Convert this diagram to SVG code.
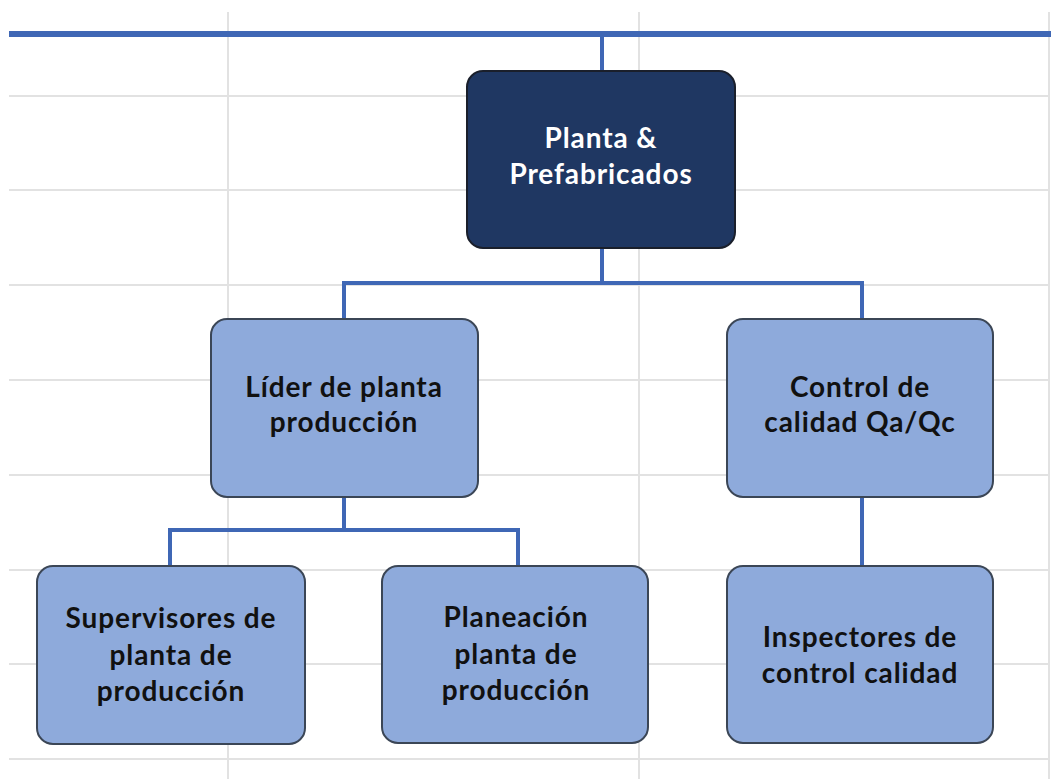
<svg xmlns="http://www.w3.org/2000/svg" width="1051" height="779" viewBox="0 0 1051 779">
<style>
.grid line{stroke:#e2e2e2;stroke-width:2}
.conn{stroke:#3f67b5;stroke-width:4;fill:none}
.box{fill:#8eaadb;stroke:#3b4656;stroke-width:2}
.dark{fill:#1f3762;stroke:#1a1f2b;stroke-width:2}
text{font-family:Lato,"Open Sans","Liberation Sans",sans-serif;font-weight:bold;font-size:28px;letter-spacing:0.9px;text-anchor:middle;fill:#111}
.w{fill:#ffffff}
</style>
<rect width="1051" height="779" fill="#ffffff"/>
<g class="grid">
<line x1="9" y1="96" x2="1049" y2="96"/>
<line x1="9" y1="190" x2="1049" y2="190"/>
<line x1="9" y1="285" x2="1049" y2="285"/>
<line x1="9" y1="380" x2="1049" y2="380"/>
<line x1="9" y1="475" x2="1049" y2="475"/>
<line x1="9" y1="570" x2="1049" y2="570"/>
<line x1="9" y1="664" x2="1049" y2="664"/>
<line x1="9" y1="759" x2="1049" y2="759"/>
<line x1="228" y1="12" x2="228" y2="779"/>
<line x1="639" y1="12" x2="639" y2="779"/>
<line x1="1049" y1="12" x2="1049" y2="779"/>
</g>
<g id="connectors">
<line x1="9" y1="34" x2="1051" y2="34" stroke="#3f67b5" stroke-width="6"/>
<line class="conn" x1="602" y1="34" x2="602" y2="70"/>
<path class="conn" d="M602 248 V283 M344 318 V283 H862 V318"/>
<path class="conn" d="M344 497 V530 M170 566 V530 H518 V566"/>
<line class="conn" x1="862" y1="497" x2="862" y2="566"/>
</g>
<g id="planta">
<rect class="dark" x="467" y="71" width="268" height="177" rx="16"/>
<text class="w" x="601" y="148">Planta &amp;</text>
<text class="w" x="601" y="184">Prefabricados</text>
</g>
<g id="lider">
<rect class="box" x="211" y="319" width="267" height="178" rx="16"/>
<text x="344" y="397">Líder de planta</text>
<text x="344" y="432">producción</text>
</g>
<g id="control">
<rect class="box" x="727" y="319" width="266" height="178" rx="16"/>
<text x="860" y="397">Control de</text>
<text x="860" y="432">calidad Qa/Qc</text>
</g>
<g id="supervisores">
<rect class="box" x="37" y="566" width="268" height="178" rx="16"/>
<text x="171" y="628">Supervisores de</text>
<text x="171" y="665">planta de</text>
<text x="171" y="701">producción</text>
</g>
<g id="planeacion">
<rect class="box" x="382" y="566" width="266" height="177" rx="16"/>
<text x="516" y="627">Planeación</text>
<text x="516" y="664">planta de</text>
<text x="516" y="700">producción</text>
</g>
<g id="inspectores">
<rect class="box" x="727" y="566" width="266" height="177" rx="16"/>
<text x="860" y="647">Inspectores de</text>
<text x="860" y="683">control calidad</text>
</g>
</svg>
